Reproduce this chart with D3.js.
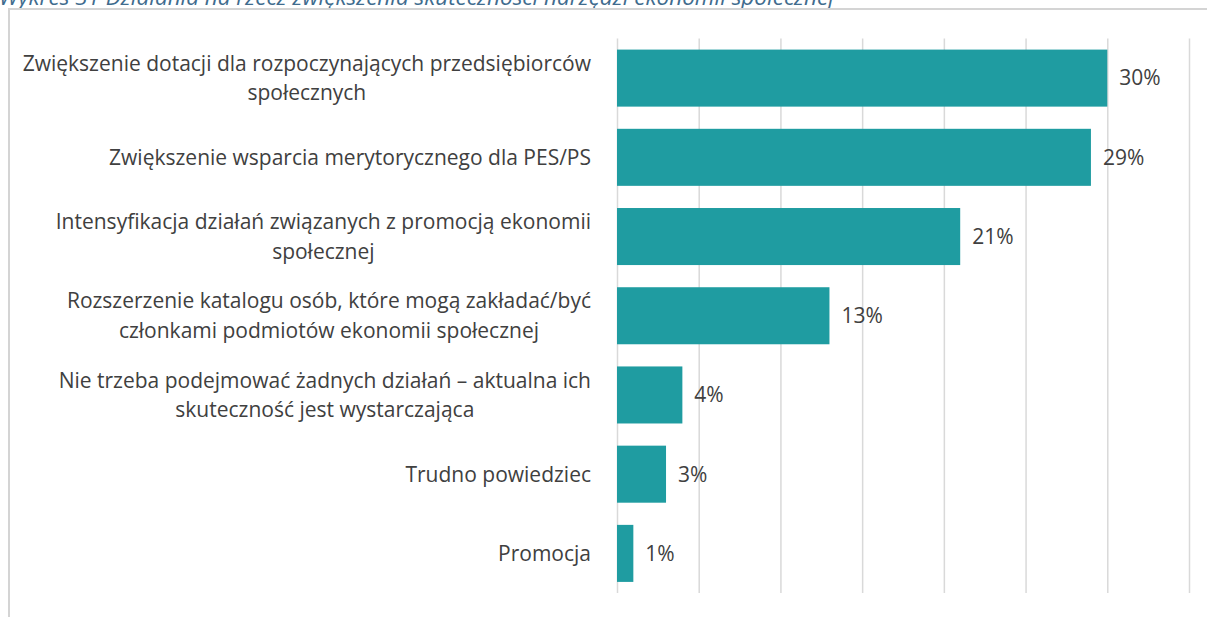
<!DOCTYPE html>
<html>
<head>
<meta charset="utf-8">
<script src="https://cdn.jsdelivr.net/npm/d3@7"></script>
<style>
  html, body { margin: 0; padding: 0; background: #ffffff; }
  svg { display: block; }
</style>
</head>
<body>
<svg id="chart" width="1207" height="617"></svg>
<script>
// Chart data
const titleText = "Wykres 31 Działania na rzecz zwiększenia skuteczności narzędzi ekonomii społecznej";
const categories = [
  "Zwiększenie dotacji dla rozpoczynających przedsiębiorców\nspołecznych",
  "Zwiększenie wsparcia merytorycznego dla PES/PS",
  "Intensyfikacja działań związanych z promocją ekonomii\nspołecznej",
  "Rozszerzenie katalogu osób, które mogą zakładać/być\nczłonkami podmiotów ekonomii społecznej",
  "Nie trzeba podejmować żadnych działań – aktualna ich\nskuteczność jest wystarczająca",
  "Trudno powiedziec",
  "Promocja"
];
const values = [30, 29, 21, 13, 4, 3, 1];
const gridTicks = [0, 5, 10, 15, 20, 25, 30, 35];

const svg = d3.select("#chart");
const W = 1207, H = 617;
const plot = { left: 617, right: 1189, top: 38.5, bottom: 593 };
const font = "'Open Sans', 'Noto Sans', sans-serif";
const textColor = "#404040";
const labelSize = 21;

// Caption above the frame (partly outside the page)
svg.append("text")
  .attr("x", -1).attr("y", 5)
  .attr("font-family", font)
  .attr("font-style", "italic")
  .attr("font-size", 22.5)
  .attr("fill", "#3f6c8e")
  .text(titleText);

// Chart frame (left and top edges)
svg.append("path")
  .attr("d", `M9,${H} V9 H${W}`)
  .attr("fill", "none")
  .attr("stroke", "#d4d4d4")
  .attr("stroke-width", 2);

const x = d3.scaleLinear().domain([0, 35]).range([plot.left, plot.right]);
const y = d3.scaleBand().domain(categories)
  .range([plot.top, plot.bottom])
  .paddingInner(0.28).paddingOuter(0.14);

// Vertical gridlines
const grid = svg.append("g")
  .attr("transform", `translate(0,${plot.bottom})`)
  .call(d3.axisBottom(x).tickValues(gridTicks)
    .tickSize(-(plot.bottom - plot.top)).tickFormat(""));
grid.select(".domain").remove();
grid.selectAll(".tick line")
  .attr("stroke", "#d9d9d9")
  .attr("stroke-width", 1.5);

// Bars
svg.append("g").selectAll("rect")
  .data(values)
  .join("rect")
  .attr("x", x(0))
  .attr("y", (d, i) => y(categories[i]))
  .attr("width", d => x(d) - x(0))
  .attr("height", y.bandwidth())
  .attr("fill", "#1f9ca1");

// Value labels
svg.append("g").selectAll("text")
  .data(values)
  .join("text")
  .attr("x", d => x(d) + 12)
  .attr("y", (d, i) => y(categories[i]) + y.bandwidth() / 2)
  .attr("dy", "0.35em")
  .attr("font-family", font)
  .attr("font-size", labelSize)
  .attr("fill", textColor)
  .text(d => d + "%");

// Category labels: wrapped lines centred within a right-aligned block
const labelRight = 591;
const lineGap = 29.5;
const labels = svg.append("g");
categories.forEach((cat) => {
  const lines = cat.split("\n");
  const cy = y(cat) + y.bandwidth() / 2;
  const g = labels.append("g");
  const texts = lines.map((ln, k) =>
    g.append("text")
      .attr("font-family", font)
      .attr("font-size", labelSize)
      .attr("fill", textColor)
      .attr("text-anchor", "middle")
      .attr("dy", "0.35em")
      .attr("y", cy + (k - (lines.length - 1) / 2) * lineGap)
      .text(ln));
  const maxW = d3.max(texts, t => t.node().getComputedTextLength());
  texts.forEach(t => t.attr("x", labelRight - maxW / 2));
});
</script>
</body>
</html>
